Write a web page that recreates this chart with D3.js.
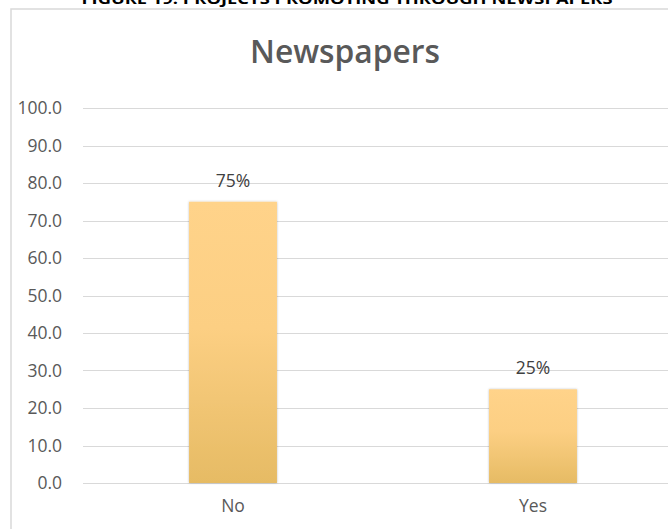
<!DOCTYPE html>
<html>
<head>
<meta charset="utf-8">
<script src="https://cdn.jsdelivr.net/npm/d3@7"></script>
<style>
  html, body { margin: 0; padding: 0; background: #ffffff; overflow: hidden; }
  svg { display: block; }
</style>
</head>
<body>
<svg id="chart" width="668" height="529"></svg>
<script>
// Survey answers: share of projects promoting through newspapers
const categories = ["No", "Yes"];
const values = [75, 25];
const yTicks = [0, 10, 20, 30, 40, 50, 60, 70, 80, 90, 100];
const figureCaption = "FIGURE 19: PROJECTS PROMOTING THROUGH NEWSPAPERS";
const chartTitle = "Newspapers";

const svg = d3.select("#chart");
const font = "'Open Sans', 'Liberation Sans', sans-serif";

// Plot area (the chart frame continues beyond the right edge)
const plot = { left: 83, right: 683, top: 108, bottom: 483 };

const x = d3.scaleBand()
  .domain(categories)
  .range([plot.left, plot.right])
  .paddingInner(0.707)
  .paddingOuter(0.3535);

const y = d3.scaleLinear()
  .domain([0, 100])
  .range([plot.bottom, plot.top]);

// Gradient fill for the bars
const defs = svg.append("defs");
const grad = defs.append("linearGradient")
  .attr("id", "barGrad")
  .attr("x1", 0).attr("y1", 0).attr("x2", 0).attr("y2", 1);
grad.append("stop").attr("offset", "0%").attr("stop-color", "#ffd38a");
grad.append("stop").attr("offset", "45%").attr("stop-color", "#fccf83");
grad.append("stop").attr("offset", "100%").attr("stop-color", "#e6bb64");

const shadow = defs.append("filter").attr("id", "barShadow")
  .attr("x", "-20%").attr("y", "-5%").attr("width", "140%").attr("height", "110%");
shadow.append("feDropShadow")
  .attr("dx", 0).attr("dy", 0).attr("stdDeviation", 1.2)
  .attr("flood-color", "#000").attr("flood-opacity", 0.25);

// Figure caption above the chart frame
svg.append("text")
  .attr("x", 347).attr("y", 4)
  .attr("text-anchor", "middle")
  .attr("font-family", font)
  .attr("font-weight", "bold")
  .attr("font-size", 15)
  .attr("fill", "#000")
  .attr("textLength", 531)
  .attr("lengthAdjust", "spacingAndGlyphs")
  .text(figureCaption);

// Chart frame
svg.append("rect")
  .attr("x", 11).attr("y", 9)
  .attr("width", 700).attr("height", 560)
  .attr("fill", "#ffffff")
  .attr("stroke", "#d9d9d9")
  .attr("stroke-width", 1.5);

// Chart title
svg.append("text")
  .attr("x", 345).attr("y", 63)
  .attr("text-anchor", "middle")
  .attr("font-family", font)
  .attr("font-weight", 600)
  .attr("font-size", 33)
  .attr("fill", "#595959")
  .attr("textLength", 190)
  .attr("lengthAdjust", "spacingAndGlyphs")
  .text(chartTitle);

// Horizontal gridlines
svg.append("g")
  .selectAll("line")
  .data(yTicks)
  .join("line")
  .attr("x1", plot.left).attr("x2", plot.right)
  .attr("y1", d => Math.round(y(d)) + 0.5)
  .attr("y2", d => Math.round(y(d)) + 0.5)
  .attr("stroke", "#d9d9d9")
  .attr("stroke-width", 1);

// Y axis labels
const yAxis = d3.axisLeft(y)
  .tickValues(yTicks)
  .tickFormat(d3.format(".1f"))
  .tickSize(0)
  .tickPadding(0);
const yAxisG = svg.append("g")
  .attr("transform", "translate(62,0)")
  .call(yAxis);
yAxisG.select(".domain").remove();
yAxisG.selectAll("text")
  .attr("font-family", font)
  .attr("font-size", 17.5)
  .attr("fill", "#595959");

// X axis labels
const xAxis = d3.axisBottom(x).tickSize(0).tickPadding(0);
const xAxisG = svg.append("g")
  .attr("transform", `translate(0,${plot.bottom + 17})`)
  .call(xAxis);
xAxisG.select(".domain").remove();
xAxisG.selectAll("text")
  .attr("font-family", font)
  .attr("font-size", 17.5)
  .attr("fill", "#595959");

// Bars
svg.append("g")
  .selectAll("rect")
  .data(categories.map((c, i) => ({ c, v: values[i] })))
  .join("rect")
  .attr("x", d => x(d.c))
  .attr("y", d => y(d.v))
  .attr("width", x.bandwidth())
  .attr("height", d => y(0) - y(d.v))
  .attr("fill", "url(#barGrad)")
  .attr("filter", "url(#barShadow)");

// Value labels
svg.append("g")
  .selectAll("text")
  .data(categories.map((c, i) => ({ c, v: values[i] })))
  .join("text")
  .attr("x", d => x(d.c) + x.bandwidth() / 2)
  .attr("y", d => y(d.v) - 15)
  .attr("text-anchor", "middle")
  .attr("font-family", font)
  .attr("font-size", 17.5)
  .attr("fill", "#404040")
  .text(d => d3.format("d")(d.v) + "%");
</script>
</body>
</html>
